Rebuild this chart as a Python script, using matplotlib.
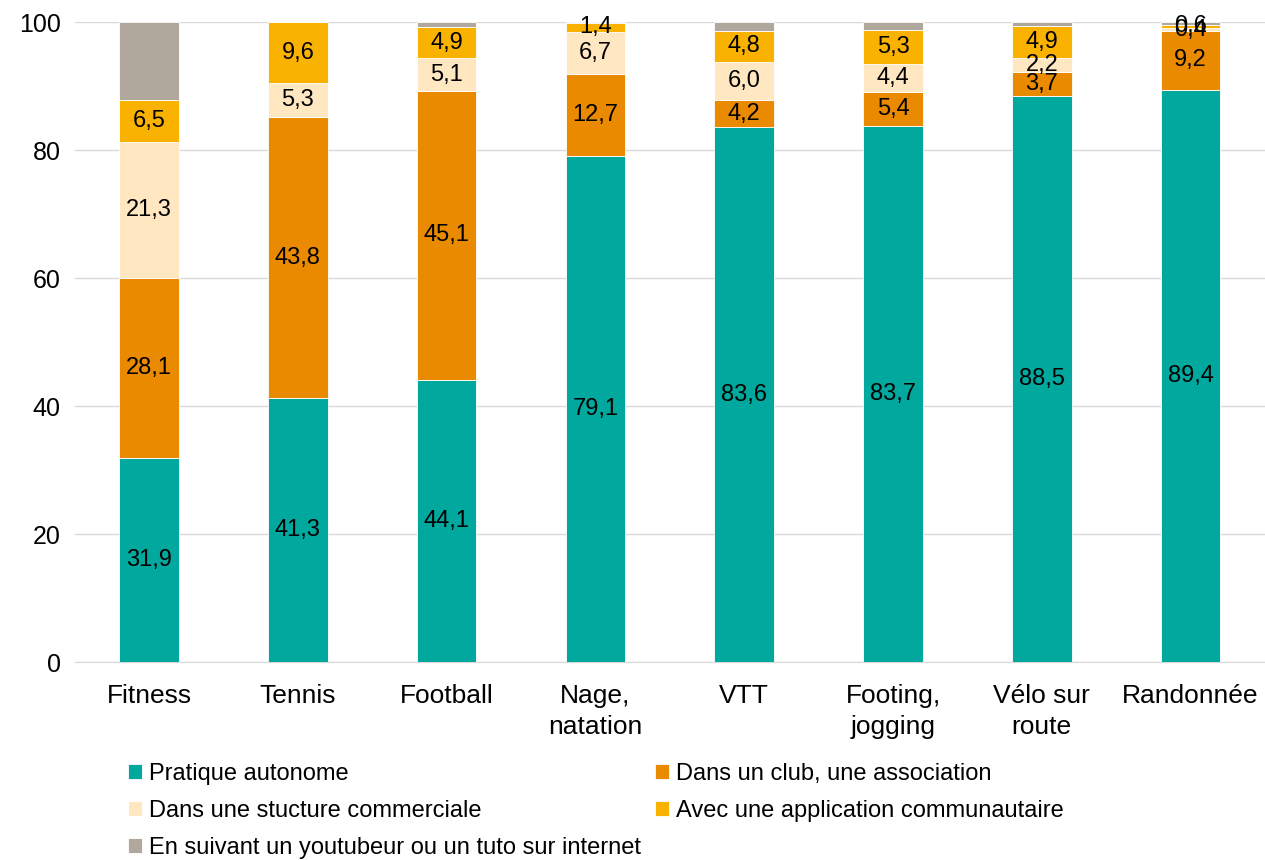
import numpy as np
import matplotlib
matplotlib.use("Agg")
import matplotlib.pyplot as plt

plt.rcParams['font.family'] = ['Liberation Sans', 'DejaVu Sans']

categories = ['Fitness', 'Tennis', 'Football', 'Nage,\nnatation', 'VTT',
              'Footing,\njogging', 'Vélo sur\nroute', 'Randonnée']
autonome = [31.9, 41.3, 44.1, 79.1, 83.6, 83.7, 88.5, 89.4]
club = [28.1, 43.8, 45.1, 12.7, 4.2, 5.4, 3.7, 9.2]
commerciale = [21.3, 5.3, 5.1, 6.7, 6.0, 4.4, 2.2, 0.4]
application = [6.5, 9.6, 4.9, 1.4, 4.8, 5.3, 4.9, 0.6]
youtubeur = [12.2, 0.0, 0.8, 0.1, 1.4, 1.2, 0.7, 0.4]

series = [
    ('Pratique autonome', autonome, '#00A89D', True),
    ('Dans un club, une association', club, '#EA8A00', True),
    ('Dans une stucture commerciale', commerciale, '#FFE7C2', True),
    ('Avec une application communautaire', application, '#FAB200', True),
    ('En suivant un youtubeur ou un tuto sur internet', youtubeur, '#B0A89C', False),
]

fig = plt.figure(figsize=(12.65, 8.6), dpi=100)
ax = fig.add_axes([0.059, 0.2302, 0.941, 0.7442])

x = np.arange(len(categories))
bottom = np.zeros(len(categories))
handles = []
for name, vals, col, lab in series:
    vals = np.array(vals)
    b = ax.bar(x, vals, 0.4, bottom=bottom, color=col, edgecolor='white',
               linewidth=0.6, label=name, zorder=3)
    handles.append(b)
    if lab:
        for xi, v, bt in zip(x, vals, bottom):
            ax.text(xi, bt + v / 2, f'{v:.1f}'.replace('.', ','), ha='center',
                    va='center', fontsize=17, color='black', zorder=4)
    bottom += vals

ax.set_xlim(-0.5, len(categories) - 0.5)
ax.set_ylim(0, 100)
ax.set_yticks(range(0, 101, 20))
ax.tick_params(axis='y', length=0, labelsize=18, pad=10)
ax.tick_params(axis='x', length=0, labelsize=19, pad=16)
ax.set_xticks(x)
ax.set_xticklabels(categories, linespacing=1.35)
ax.grid(axis='y', color='#D9D9D9', linewidth=1, zorder=0)
for s in ['top', 'right', 'left']:
    ax.spines[s].set_visible(False)
ax.spines['bottom'].set_color('#D9D9D9')

# row-major order for the legend (matplotlib fills columns first)
order = [0, 2, 4, 1, 3]
fig.legend(handles=[handles[i] for i in order], loc='upper left',
           bbox_to_anchor=(0.101, 0.113),
           ncol=2, frameon=False, fontsize=17, handlelength=0.6, handleheight=0.6,
           handletextpad=0.3, columnspacing=0.6, labelspacing=0.64,
           borderaxespad=0, borderpad=0)

fig.savefig('out.png', dpi=100)
